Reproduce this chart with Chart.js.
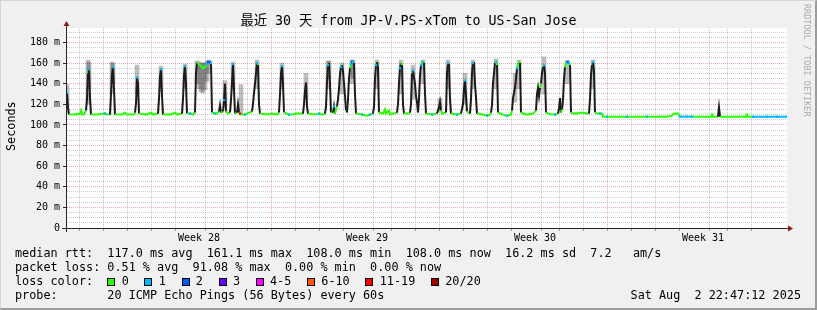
<!DOCTYPE html>
<html>
<head>
<meta charset="utf-8">
<title>Smokeping - 30 days</title>
<script src="https://cdn.jsdelivr.net/npm/chart.js@4.4.1/dist/chart.umd.min.js"></script>
<style>
  html, body { margin: 0; padding: 0; background: #f0f0f0; }
  #wrap {
    position: relative; width: 817px; height: 310px; overflow: hidden;
    background: #f0f0f0; color: #000;
    font-family: 'DejaVu Sans Mono', 'Noto Sans CJK SC', monospace;
  }
  #wrap canvas { position: absolute; left: 0; top: 0; }
  .edge {
    position: absolute; left: 0; top: 0; width: 817px; height: 310px; box-sizing: border-box;
    border-top: 1px solid #d4d4d4; border-left: 1px solid #d4d4d4;
    border-right: 2px solid #9c9c9c; border-bottom: 2px solid #9c9c9c; pointer-events: none;
  }
  .title {
    position: absolute; left: 0; top: 13px; width: 817px; text-align: center;
    font-size: 13.3px; line-height: 16px; white-space: pre;
  }
  .line { position: absolute; left: 15px; font-size: 11.8px; line-height: 14px; white-space: pre; }
  .sw {
    display: inline-block; width: 8px; height: 8px; box-sizing: border-box;
    border: 1px solid #000; margin-right: 6.3px; vertical-align: -0.5px;
  }
  .lbl { margin-right: 15.7px; }
  .date { position: absolute; right: 16px; top: 288px; font-size: 11.8px; line-height: 14px; white-space: pre; }
  .ylab {
    position: absolute; left: 4px; top: 151px; font-size: 11.8px; line-height: 14px; white-space: pre;
    transform-origin: 0 0; transform: rotate(-90deg);
  }
  .brand {
    position: absolute; left: 812px; top: 4px; font-size: 8.5px; line-height: 10px; white-space: pre;
    color: #ababab; transform-origin: 0 0; transform: rotate(90deg);
  }
</style>
</head>
<body>
<div id="wrap">
  <canvas id="chart" width="817" height="310"></canvas>
  <div class="title">最近 30 天 from JP-V.PS-xTom to US-San Jose</div>
  <div class="ylab">Seconds</div>
  <div class="brand">RRDTOOL / TOBI OETIKER</div>
  <div class="line" style="top:246px">median rtt:  117.0 ms avg  161.1 ms max  108.0 ms min  108.0 ms now  16.2 ms sd  7.2   am/s</div>
  <div class="line" style="top:260px">packet loss: 0.51 % avg  91.08 % max  0.00 % min  0.00 % now</div>
  <div class="line" id="losslegend" style="top:274px">loss color:  </div>
  <div class="line" style="top:288px">probe:       20 ICMP Echo Pings (56 Bytes) every 60s</div>
  <div class="date">Sat Aug  2 22:47:12 2025</div>
  <div class="edge"></div>
</div>
<script>
// ===================================
// SMOKEPING 30 DAY GRAPH
// median rtt line coloured by loss, grey smoke at the peaks
// ===================================

// hours since the left edge of the graph (720 h = 30 days)
const rttHours = [
    0, 1, 2, 8, 13, 14, 15, 17, 19, 20, 21, 22, 23, 24, 30, 38, 40, 43, 44, 45, 46, 47, 48, 55, 58, 60,
    67, 68, 69, 70, 71, 72, 80, 84, 86, 91, 92, 93, 94, 95, 96, 104, 108, 110, 115, 116, 117, 118, 119, 120, 123, 126,
    128, 129, 130, 132, 134, 136, 138, 140, 141, 143, 144, 145, 148, 150, 152, 153, 154, 156, 157, 158, 159, 161, 163, 164, 165, 166, 167, 168,
    170, 171, 172, 173, 174, 178, 180, 185, 186, 187, 188, 189, 190, 191, 192, 193, 200, 205, 210, 212, 213, 214, 215, 216, 217, 222, 225, 230, 236, 237, 238, 239, 240, 241,
    248, 252, 256, 258, 259, 260, 261, 262, 263, 264, 266, 267, 268, 269, 270, 271, 272, 273, 274, 275, 276, 277, 278, 279, 280, 281, 282, 283, 284, 285, 286, 287, 288, 289,
    295, 300, 303, 306, 307, 308, 309, 310, 311, 312, 316, 318, 319, 322, 323, 330, 331, 332, 333, 334, 335, 336, 337,
    342, 343, 344, 345, 346, 347, 348, 349, 350, 351, 352, 353, 354, 355, 356, 357, 358, 359, 365, 370, 372, 373, 374, 375, 379, 380, 381, 382, 383, 384, 390, 394, 396, 397, 398, 399, 400, 403, 404, 405, 406, 407, 408, 409, 410,
    416, 420, 423, 424, 425, 426, 427, 428, 429, 430, 431, 436, 440, 444, 445, 446, 447, 448, 449, 450, 451, 452, 453, 454, 460, 466, 469, 470, 471, 472, 473, 474, 475, 476, 477, 478, 479, 484, 488, 491, 492, 493, 494, 495, 496, 497, 498, 499, 500, 501, 502, 503, 504, 506, 510, 515, 520, 522, 523, 524, 525, 526, 527, 528, 530, 533, 535,
    536, 540, 546, 552, 560, 566, 575, 580, 590, 600, 605, 607, 611, 613, 620, 625, 630, 644, 645, 646, 651, 652, 653, 660, 670, 679, 680, 681, 686, 700, 710, 720
];

// median round trip time, ms
const rttMedian = [
    131, 117, 110, 110, 111, 114, 110, 110, 114, 125, 150, 154, 127, 110, 110, 111, 110, 110, 130, 149, 156, 135, 110, 110, 112, 110,
    110, 112, 121, 146, 140, 111, 110, 112, 110, 111, 125, 147, 154, 128, 110, 110, 112, 110, 111, 125, 148, 157, 140, 111, 111, 110,
    112, 150, 160, 159, 157, 155, 156, 159, 161, 161, 160, 112, 111, 111, 113, 119, 112, 113, 124, 140, 113, 111, 112, 124, 141, 159, 135, 111,
    112, 120, 112, 111, 110, 110, 111, 113, 120, 131, 140, 150, 160, 158, 120, 111, 110, 111, 110, 112, 130, 150, 157, 140, 112, 110, 110, 111, 111, 120, 133, 141, 118, 111,
    110, 111, 110, 111, 118, 142, 158, 160, 140, 112, 112, 118, 111, 115, 118, 125, 135, 150, 156, 158, 152, 140, 128, 114, 112, 125, 145, 155, 159, 161, 161, 160, 130, 111,
    110, 109, 110, 111, 118, 145, 158, 161, 155, 112, 111, 115, 111, 114, 110, 112, 120, 140, 155, 160, 158, 120, 111,
    111, 112, 120, 150, 153, 146, 140, 128, 122, 112, 125, 148, 158, 161, 161, 160, 130, 111, 110, 111, 117, 122, 114, 111, 112, 150, 160, 159, 125, 111, 110, 111, 120, 135, 143, 128, 113, 111, 125, 150, 160, 161, 140, 126, 111,
    110, 109, 110, 112, 119, 140, 150, 160, 161, 158, 112, 110, 109, 110, 114, 126, 131, 136, 145, 155, 158, 161, 160, 112, 110, 111, 114, 130, 136, 128, 136, 140, 150, 156, 158, 150, 112, 110, 110, 111, 116, 126, 112, 115, 124, 145, 156, 160, 161, 161, 160, 158, 112, 111, 111, 112, 111, 111, 125, 148, 158, 161, 152, 112, 111, 111, 111,
    108, 108, 108, 108, 108, 108, 108, 108, 108, 108, 109, 111, 111, 108, 108, 108, 108, 108, 110, 108, 108, 117, 108, 108, 108, 108, 110, 108, 108, 108, 108, 108
];

// lost pings out of 20 for each median sample
const rttLoss = [
    1, 0, 0, 0, 0, 0, 0, 0, 0, 0, 0, 1, 0, 0, 0, 1, 0, 0, 0, 0, 1, 0, 0, 0, 0, 0,
    0, 0, 0, 1, 0, 0, 0, 0, 0, 0, 0, 0, 1, 0, 0, 0, 0, 0, 0, 0, 0, 1, 0, 0, 1, 0,
    0, 0, 0, 0, 0, 0, 0, 1, 2, 2, 1, 0, 1, 0, 0, 0, 0, 0, 1, 0, 0, 0, 0, 0, 0, 1, 0, 0,
    0, 0, 0, 12, 0, 1, 0, 0, 0, 0, 0, 0, 1, 0, 0, 0, 0, 0, 0, 0, 0, 0, 1, 0, 0, 1, 0, 0, 0, 0, 0, 0, 0, 0,
    0, 1, 0, 0, 0, 0, 1, 0, 0, 0, 0, 1, 0, 0, 0, 0, 0, 0, 1, 0, 0, 0, 0, 0, 0, 0, 0, 0, 1, 2, 1, 0, 0, 0,
    1, 0, 1, 0, 0, 0, 1, 0, 0, 0, 0, 0, 0, 0, 0, 0, 0, 0, 1, 0, 0, 0, 0,
    0, 0, 0, 0, 1, 0, 0, 0, 0, 0, 0, 0, 1, 0, 1, 0, 0, 0, 1, 0, 0, 0, 0, 0, 0, 0, 1, 0, 0, 0, 1, 0, 0, 0, 1, 0, 0, 0, 0, 0, 1, 0, 0, 0, 0,
    0, 1, 0, 0, 0, 0, 0, 0, 1, 0, 0, 0, 1, 0, 0, 0, 0, 0, 0, 1, 0, 0, 0, 0, 0, 0, 0, 0, 0, 0, 0, 0, 0, 0, 1, 0, 0, 0, 1, 0, 0, 0, 0, 0, 0, 0, 0, 0, 1, 2, 1, 0, 0, 0, 0, 0, 0, 0, 0, 0, 0, 1, 0, 0, 0, 1, 0,
    0, 1, 0, 0, 1, 0, 0, 1, 0, 0, 0, 0, 0, 1, 1, 1, 0, 0, 0, 0, 0, 0, 0, 0, 0, 0, 0, 0, 1, 1, 1, 1
];

// smoke (spread of the 20 pings) where it shows above the median
const smokeHours = [0, 21, 22, 45, 46, 70, 94, 118, 130, 132, 134, 136, 138, 140, 142, 158, 166, 174, 190, 215,
    239, 261, 262, 275, 285, 286, 310, 334, 346, 356, 373, 381, 398, 406, 429, 448, 452, 477, 500, 526];
const smokeLow = [112, 120, 135, 130, 140, 130, 132, 135, 140, 135, 132, 131, 134, 142, 150, 118, 135, 110, 135, 135,
    125, 135, 145, 130, 140, 145, 135, 130, 125, 140, 113, 135, 120, 135, 135, 122, 135, 130, 140, 135];
const smokeHigh = [139, 163, 161, 161, 160, 158, 157, 159, 162, 161, 160, 160, 160, 162, 163, 143, 161, 139, 163, 160,
    150, 162, 162, 160, 163, 163, 163, 163, 158, 163, 126, 163, 150, 163, 164, 150, 163, 166, 163, 163];

// x axis labels
const weekLabels = ['Week 28', 'Week 29', 'Week 30', 'Week 31'];
const weekLabelHours = [132, 300, 468, 636];
const weekStartHours = [48, 216, 384, 552];

// loss colour legend
const lossLabels = ['0', '1', '2', '3', '4-5', '6-10', '11-19', '20/20'];
const lossColors = ['#26ff00', '#00b8ff', '#0059ff', '#6a00ff', '#ff00ff', '#ff5500', '#ff0000', '#a10000'];

const GRID_MINOR = 'rgba(120, 120, 120, 0.38)';
const GRID_MAJOR = 'rgba(222, 95, 95, 0.5)';
const FONT = 'DejaVu Sans Mono';

function lossBucket(n) {
    if (n <= 3) return n;
    if (n <= 5) return 4;
    if (n <= 10) return 5;
    if (n <= 19) return 6;
    return 7;
}

function lossColor(i) {
    return lossColors[lossBucket(rttLoss[i] || 0)];
}

function tickValue(c) {
    return c && c.tick ? c.tick.value : -1;
}

// legend line
const legend = document.getElementById('losslegend');
lossLabels.forEach((label, i) => {
    legend.insertAdjacentHTML('beforeend',
        `<span class="sw" style="background:${lossColors[i]}"></span><span class="lbl">${label}</span>`);
});

const hourTicks = [];
for (let h = 24; h < 720; h += 24) hourTicks.push(h);

const rrdFrame = {
    id: 'rrdFrame',
    beforeDraw(chart) {
        const { ctx, chartArea: a } = chart;
        ctx.save();
        ctx.fillStyle = '#ffffff';
        ctx.fillRect(a.left, a.top, a.right - a.left, a.bottom - a.top);
        ctx.restore();
    },
    afterDraw(chart) {
        const { ctx, chartArea: a } = chart;
        const yb = a.bottom + 0.5;
        const xl = a.left - 0.5;
        ctx.save();
        ctx.strokeStyle = '#262626';
        ctx.lineWidth = 1;
        ctx.beginPath();
        ctx.moveTo(a.left - 5, yb);
        ctx.lineTo(a.right + 1, yb);
        ctx.moveTo(xl, a.bottom + 4);
        ctx.lineTo(xl, a.top - 2);
        ctx.stroke();
        // arrows
        ctx.fillStyle = '#8b1a1a';
        ctx.beginPath();
        ctx.moveTo(a.right + 1, yb - 3);
        ctx.lineTo(a.right + 1, yb + 3);
        ctx.lineTo(a.right + 6, yb);
        ctx.closePath();
        ctx.fill();
        ctx.beginPath();
        ctx.moveTo(xl - 3, a.top - 2);
        ctx.lineTo(xl + 3, a.top - 2);
        ctx.lineTo(xl, a.top - 7);
        ctx.closePath();
        ctx.fill();
        ctx.restore();
    }
};

new Chart(document.getElementById('chart'), {
    type: 'line',
    data: {
        datasets: [
            {
                type: 'line',
                label: 'median rtt',
                data: rttHours.map((h, i) => ({ x: h, y: rttMedian[i] })),
                borderWidth: 2,
                tension: 0,
                borderColor: '#26ff00',
                segment: {
                    borderColor: ctx => {
                        if (Math.abs(ctx.p1.y - ctx.p0.y) > 5) return '#1c1c1c';
                        const a = rttLoss[ctx.p0DataIndex], b = rttLoss[ctx.p1DataIndex];
                        return lossColors[lossBucket(Math.min(a, b))];
                    }
                },
                pointStyle: 'rect',
                pointRadius: ctx => (rttLoss[ctx.dataIndex] > 0 ? 1.6 : 0),
                pointBorderWidth: 0,
                pointBackgroundColor: ctx => lossColor(ctx.dataIndex),
                order: 0
            },
            {
                type: 'bar',
                label: 'smoke',
                data: smokeHours.map((h, i) => ({ x: h, y: [smokeLow[i], smokeHigh[i]] })),
                backgroundColor: 'rgba(0, 0, 0, 0.25)',
                borderWidth: 0,
                barThickness: 4,
                order: 1
            }
        ]
    },
    options: {
        responsive: false,
        animation: false,
        layout: { padding: { top: 28, right: 30, left: 0, bottom: 0 } },
        plugins: {
            legend: { display: false },
            tooltip: { enabled: false }
        },
        scales: {
            x: {
                type: 'linear',
                min: 0,
                max: 720,
                offset: false,
                afterBuildTicks: s => {
                    s.ticks = hourTicks.concat(weekLabelHours).sort((a, b) => a - b).map(v => ({ value: v }));
                },
                afterFit: s => { s.height = 82; },
                ticks: {
                    autoSkip: false,
                    maxRotation: 0,
                    minRotation: 0,
                    padding: 1,
                    color: '#000',
                    font: { family: FONT, size: 10 },
                    callback: v => {
                        const i = weekLabelHours.indexOf(v);
                        return i >= 0 ? weekLabels[i] : '';
                    }
                },
                grid: {
                    lineWidth: 1,
                    tickLength: 3,
                    color: c => {
                        const v = tickValue(c);
                        if (v <= 0 || v % 24 !== 0) return 'transparent';
                        return weekStartHours.includes(v) ? GRID_MAJOR : GRID_MINOR;
                    },
                    tickColor: c => (tickValue(c) > 0 && tickValue(c) % 24 === 0 ? '#9a9a9a' : 'transparent')
                },
                border: { display: false, color: 'transparent', dash: [1, 1] }
            },
            y: {
                min: 0,
                max: 194,
                afterFit: s => { s.width = 67; },
                ticks: {
                    stepSize: 5,
                    includeBounds: false,
                    autoSkip: false,
                    padding: 3,
                    color: '#000',
                    font: { family: FONT, size: 10 },
                    callback: v => (v % 20 === 0 ? (v === 0 ? '0' : v + ' m') : '')
                },
                grid: {
                    lineWidth: 1,
                    tickLength: 4,
                    color: c => (tickValue(c) % 20 === 0 ? GRID_MAJOR : GRID_MINOR),
                    tickColor: c => (tickValue(c) % 20 === 0 ? '#262626' : 'transparent')
                },
                border: { display: false, color: 'transparent', dash: [1, 1] }
            }
        }
    },
    plugins: [rrdFrame]
});
</script>
</body>
</html>
